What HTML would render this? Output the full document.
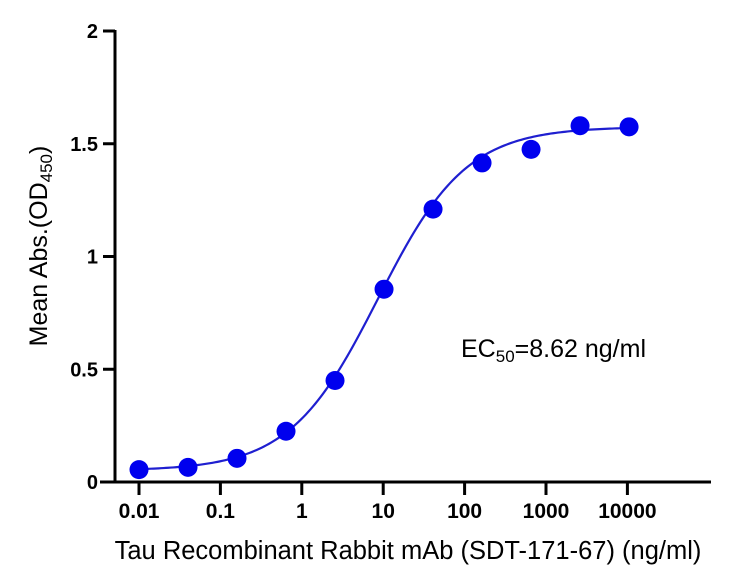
<!DOCTYPE html>
<html><head><meta charset="utf-8"><style>
html,body{margin:0;padding:0;background:#fff;}
svg{display:block;font-family:"Liberation Sans",Arial,sans-serif;}
</style></head><body>
<svg id="chart" width="748" height="580" viewBox="0 0 748 580">
<g id="axes"></g>
<g id="curve"></g>
<g id="points"></g>
<text x="461" y="357" font-size="25" fill="#000">EC<tspan font-size="17" dy="5">50</tspan><tspan dy="-5">=8.62 ng/ml</tspan></text>
<text transform="translate(47,246) rotate(-90)" text-anchor="middle" font-size="25" fill="#000">Mean Abs.(OD<tspan font-size="17" dy="5">450</tspan><tspan dy="-5">)</tspan></text>
<text x="408" y="559" text-anchor="middle" font-size="25.5" fill="#000">Tau Recombinant Rabbit mAb (SDT-171-67) (ng/ml)</text>
</svg>
<script>
const concentrations = [0.01,0.04,0.16,0.64,2.56,10.24,40.96,163.84,655.36,2621.44,10485.76];
const absorbance = [0.055,0.065,0.105,0.225,0.45,0.855,1.21,1.415,1.475,1.58,1.575];
const xTickValues = [0.01,0.1,1,10,100,1000,10000];
const xTickLabels = ["0.01","0.1","1","10","100","1000","10000"];
const yTickValues = [0,0.5,1,1.5,2];
const yTickLabels = ["0","0.5","1","1.5","2"];
const fitBottom = 0.05, fitTop = 1.575, fitEC50 = 8.62, fitHill = 0.8;

const NS="http://www.w3.org/2000/svg";
const x0=139, xPerDecade=81.4, yZero=482, yPerUnit=225.5;
function xScale(v){return x0+(Math.log10(v)+2)*xPerDecade;}
function yScale(v){return yZero-v*yPerUnit;}
function mk(tag,attrs,parent){const e=document.createElementNS(NS,tag);for(const k in attrs)e.setAttribute(k,attrs[k]);parent.appendChild(e);return e;}

const axes=document.getElementById('axes');
let yl=mk('line',{x1:115,y1:30,x2:115,y2:483.5,stroke:'#000','stroke-width':3},axes);


let xl=mk('line',{x1:100,y1:482,x2:711,y2:482,stroke:'#000','stroke-width':3},axes);


yTickValues.forEach((v,i)=>{
  const y=yScale(v);
  const t=mk('line',{x1:103,y1:y,x2:115,y2:y,stroke:'#000','stroke-width':3},axes);
  
  
  const l=mk('text',{x:98,y:y+7,'text-anchor':'end','font-size':20,'font-weight':'bold'},axes);
  l.textContent=yTickLabels[i];
  
  
});
xTickValues.forEach((v,i)=>{
  const x=xScale(v);
  const t=mk('line',{x1:x,y1:482,x2:x,y2:495,stroke:'#000','stroke-width':3},axes);
  
  
  const l=mk('text',{x:x,y:518,'text-anchor':'middle','font-size':21,'font-weight':'bold'},axes);
  l.textContent=xTickLabels[i];
  
  
});

function fit(c){return fitBottom+(fitTop-fitBottom)/(1+Math.pow(fitEC50/c,fitHill));}
let d='';
const lo=Math.log10(concentrations[0]), hi=Math.log10(concentrations[concentrations.length-1]);
for(let i=0;i<=200;i++){const lc=lo+(hi-lo)*i/200;const c=Math.pow(10,lc);d+=(i?'L':'M')+xScale(c).toFixed(2)+','+yScale(fit(c)).toFixed(2);}
const p=mk('path',{d:d,fill:'none',stroke:'#1f1fd0','stroke-width':2.2},document.getElementById('curve'));



const pts=document.getElementById('points');
concentrations.forEach((c,i)=>{
  const ci=mk('circle',{cx:xScale(c),cy:yScale(absorbance[i]),r:9.5,fill:'#0000ee'},pts);
  
  
});
</script>
</body></html>
